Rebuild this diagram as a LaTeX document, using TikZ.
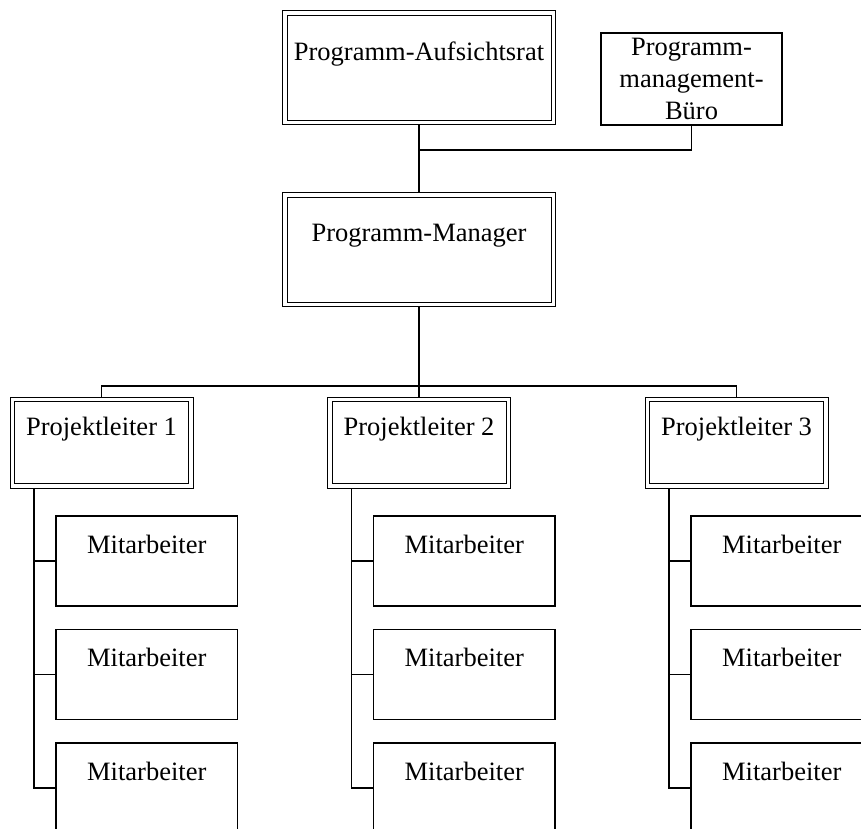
\documentclass[tikz,border=0pt]{standalone}
\usepackage{fontspec}
\setmainfont{Liberation Serif}
\begin{document}
\begin{tikzpicture}[x=1pt,y=-1pt,
  every node/.style={font=\fontsize{26.5}{32}\selectfont, inner sep=0pt, outer sep=0pt},
  dbox/.style={draw, rectangle, line width=1pt, double, double distance=3.5pt},
  sbox/.style={draw, rectangle, line width=1.2pt},
  topbox/.style={dbox, minimum width=268.5pt, text height=47pt, text depth=62.5pt},
  leadbox/.style={dbox, minimum width=178.5pt, text height=35.5pt, text depth=51pt},
  staffbox/.style={sbox, minimum width=181.5pt, text height=37pt, text depth=53pt},
  link/.style={line width=1.2pt},
  fromdbl/.style={shorten <=2.25pt},
  todbl/.style={shorten >=2.25pt}]
\useasboundingbox (0,0) rectangle (861,828);
\clip (0,0) rectangle (861,828);

% Programme level
\node[topbox] (auf) at (419,67.75) {Programm-Aufsichtsrat};
\node[topbox, text height=46pt, text depth=63.5pt] (mgr) at (419,249.75) {Programm-Manager};
\node[sbox, minimum width=181pt, minimum height=92pt, align=center] (buero) at (691.5,79)
  {Programm-\\management-\\Büro};

% Project leaders
\node[leadbox] (pl1) at (101.5,442.75) {Projektleiter 1};
\node[leadbox] (pl2) at (419,442.75) {Projektleiter 2};
\node[leadbox] (pl3) at (736.5,442.75) {Projektleiter 3};

% Staff per project
\foreach \c/\px in {1/101.5,2/419,3/736.5}{
  \node[staffbox] (m\c1) at (\px+45.25,561) {Mitarbeiter};
  \node[staffbox] (m\c2) at (\px+45.25,674.5) {Mitarbeiter};
  \node[staffbox] (m\c3) at (\px+45.25,788) {Mitarbeiter};
  \coordinate (v\c) at (\px-67.5,488);
  \draw[link] (v\c) |- (m\c3.west);
  \draw[link] (m\c1.west) -- (m\c1.west -| v\c);
  \draw[link] (m\c2.west) -- (m\c2.west -| v\c);
}

% Reporting lines
\coordinate (j1) at (419,150);
\coordinate (bus) at (419,386);
\draw[link, fromdbl, todbl] (auf.south) -- (mgr.north);
\draw[link] (buero.south) |- (j1);
\draw[link, fromdbl, todbl] (mgr.south) -- (pl2.north);
\draw[link, fromdbl, todbl] (pl1.north) |- (bus) -| (pl3.north);
\end{tikzpicture}
\end{document}
